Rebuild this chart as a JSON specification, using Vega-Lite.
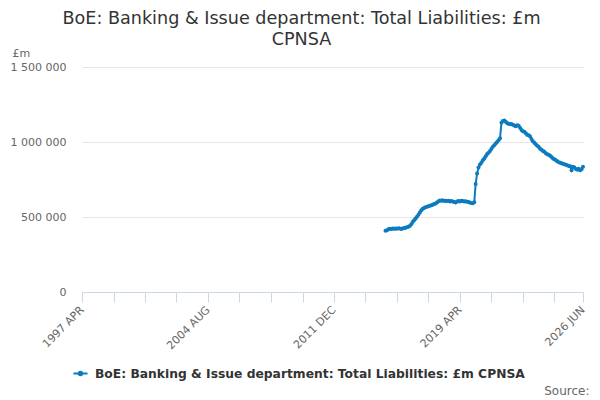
{
  "$schema": "https://vega.github.io/schema/vega-lite/v6.json",
  "autosize": {"type": "none"},
  "width": 501,
  "height": 225,
  "padding": {"left": 82, "top": 67, "right": 17, "bottom": 108},
  "background": "white",
  "title": {
    "text": ["BoE: Banking & Issue department: Total Liabilities: £m", "CPNSA"],
    "anchor": "middle",
    "frame": "group",
    "dx": -31,
    "offset": -2,
    "font": "DejaVu Sans",
    "fontSize": 17.6,
    "fontWeight": "normal",
    "color": "#333333",
    "lineHeight": 21
  },
  "config": {
    "font": "DejaVu Sans",
    "view": {"stroke": null}
  },
  "data": {
    "values": [
      {"date": "2014-12-01", "value": 408000},
      {"date": "2015-01-01", "value": 412000},
      {"date": "2015-02-01", "value": 418000},
      {"date": "2015-03-01", "value": 421000},
      {"date": "2015-04-01", "value": 420000},
      {"date": "2015-05-01", "value": 423000},
      {"date": "2015-06-01", "value": 422000},
      {"date": "2015-07-01", "value": 424000},
      {"date": "2015-08-01", "value": 421000},
      {"date": "2015-09-01", "value": 425000},
      {"date": "2015-10-01", "value": 423000},
      {"date": "2015-11-01", "value": 420000},
      {"date": "2015-12-01", "value": 424000},
      {"date": "2016-01-01", "value": 426000},
      {"date": "2016-02-01", "value": 428000},
      {"date": "2016-03-01", "value": 432000},
      {"date": "2016-04-01", "value": 435000},
      {"date": "2016-05-01", "value": 440000},
      {"date": "2016-06-01", "value": 452000},
      {"date": "2016-07-01", "value": 466000},
      {"date": "2016-08-01", "value": 478000},
      {"date": "2016-09-01", "value": 490000},
      {"date": "2016-10-01", "value": 502000},
      {"date": "2016-11-01", "value": 515000},
      {"date": "2016-12-01", "value": 530000},
      {"date": "2017-01-01", "value": 545000},
      {"date": "2017-02-01", "value": 555000},
      {"date": "2017-03-01", "value": 560000},
      {"date": "2017-04-01", "value": 565000},
      {"date": "2017-05-01", "value": 568000},
      {"date": "2017-06-01", "value": 572000},
      {"date": "2017-07-01", "value": 575000},
      {"date": "2017-08-01", "value": 578000},
      {"date": "2017-09-01", "value": 582000},
      {"date": "2017-10-01", "value": 586000},
      {"date": "2017-11-01", "value": 590000},
      {"date": "2017-12-01", "value": 596000},
      {"date": "2018-01-01", "value": 605000},
      {"date": "2018-02-01", "value": 610000},
      {"date": "2018-03-01", "value": 608000},
      {"date": "2018-04-01", "value": 612000},
      {"date": "2018-05-01", "value": 607000},
      {"date": "2018-06-01", "value": 609000},
      {"date": "2018-07-01", "value": 606000},
      {"date": "2018-08-01", "value": 608000},
      {"date": "2018-09-01", "value": 604000},
      {"date": "2018-10-01", "value": 606000},
      {"date": "2018-11-01", "value": 603000},
      {"date": "2018-12-01", "value": 600000},
      {"date": "2019-01-01", "value": 596000},
      {"date": "2019-02-01", "value": 603000},
      {"date": "2019-03-01", "value": 607000},
      {"date": "2019-04-01", "value": 604000},
      {"date": "2019-05-01", "value": 608000},
      {"date": "2019-06-01", "value": 606000},
      {"date": "2019-07-01", "value": 603000},
      {"date": "2019-08-01", "value": 605000},
      {"date": "2019-09-01", "value": 602000},
      {"date": "2019-10-01", "value": 600000},
      {"date": "2019-11-01", "value": 597000},
      {"date": "2019-12-01", "value": 594000},
      {"date": "2020-01-01", "value": 592000},
      {"date": "2020-02-01", "value": 598000},
      {"date": "2020-03-01", "value": 720000},
      {"date": "2020-04-01", "value": 790000},
      {"date": "2020-05-01", "value": 830000},
      {"date": "2020-06-01", "value": 850000},
      {"date": "2020-07-01", "value": 862000},
      {"date": "2020-08-01", "value": 878000},
      {"date": "2020-09-01", "value": 890000},
      {"date": "2020-10-01", "value": 905000},
      {"date": "2020-11-01", "value": 920000},
      {"date": "2020-12-01", "value": 928000},
      {"date": "2021-01-01", "value": 940000},
      {"date": "2021-02-01", "value": 955000},
      {"date": "2021-03-01", "value": 968000},
      {"date": "2021-04-01", "value": 978000},
      {"date": "2021-05-01", "value": 990000},
      {"date": "2021-06-01", "value": 1000000},
      {"date": "2021-07-01", "value": 1012000},
      {"date": "2021-08-01", "value": 1025000},
      {"date": "2021-09-01", "value": 1128000},
      {"date": "2021-10-01", "value": 1140000},
      {"date": "2021-11-01", "value": 1143000},
      {"date": "2021-12-01", "value": 1135000},
      {"date": "2022-01-01", "value": 1125000},
      {"date": "2022-02-01", "value": 1122000},
      {"date": "2022-03-01", "value": 1118000},
      {"date": "2022-04-01", "value": 1120000},
      {"date": "2022-05-01", "value": 1115000},
      {"date": "2022-06-01", "value": 1110000},
      {"date": "2022-07-01", "value": 1105000},
      {"date": "2022-08-01", "value": 1112000},
      {"date": "2022-09-01", "value": 1108000},
      {"date": "2022-10-01", "value": 1095000},
      {"date": "2022-11-01", "value": 1080000},
      {"date": "2022-12-01", "value": 1072000},
      {"date": "2023-01-01", "value": 1068000},
      {"date": "2023-02-01", "value": 1058000},
      {"date": "2023-03-01", "value": 1048000},
      {"date": "2023-04-01", "value": 1045000},
      {"date": "2023-05-01", "value": 1038000},
      {"date": "2023-06-01", "value": 1020000},
      {"date": "2023-07-01", "value": 1005000},
      {"date": "2023-08-01", "value": 995000},
      {"date": "2023-09-01", "value": 985000},
      {"date": "2023-10-01", "value": 975000},
      {"date": "2023-11-01", "value": 968000},
      {"date": "2023-12-01", "value": 955000},
      {"date": "2024-01-01", "value": 948000},
      {"date": "2024-02-01", "value": 940000},
      {"date": "2024-03-01", "value": 935000},
      {"date": "2024-04-01", "value": 925000},
      {"date": "2024-05-01", "value": 918000},
      {"date": "2024-06-01", "value": 915000},
      {"date": "2024-07-01", "value": 908000},
      {"date": "2024-08-01", "value": 900000},
      {"date": "2024-09-01", "value": 890000},
      {"date": "2024-10-01", "value": 885000},
      {"date": "2024-11-01", "value": 878000},
      {"date": "2024-12-01", "value": 872000},
      {"date": "2025-01-01", "value": 865000},
      {"date": "2025-02-01", "value": 862000},
      {"date": "2025-03-01", "value": 858000},
      {"date": "2025-04-01", "value": 855000},
      {"date": "2025-05-01", "value": 852000},
      {"date": "2025-06-01", "value": 848000},
      {"date": "2025-07-01", "value": 845000},
      {"date": "2025-08-01", "value": 840000},
      {"date": "2025-09-01", "value": 838000},
      {"date": "2025-10-01", "value": 812000},
      {"date": "2025-11-01", "value": 835000},
      {"date": "2025-12-01", "value": 830000},
      {"date": "2026-01-01", "value": 820000},
      {"date": "2026-02-01", "value": 815000},
      {"date": "2026-03-01", "value": 822000},
      {"date": "2026-04-01", "value": 812000},
      {"date": "2026-05-01", "value": 818000},
      {"date": "2026-06-01", "value": 835000}
    ]
  },
  "mark": {
    "type": "line",
    "strokeWidth": 2,
    "point": {"filled": true, "size": 16, "color": "#0c7bc0"}
  },
  "encoding": {
    "x": {
      "field": "date",
      "type": "temporal",
      "scale": {"domain": ["1997-04-01", "2026-06-01"], "nice": false},
      "axis": {
        "values": ["1997-04-01", "1999-02-01", "2000-12-01", "2002-10-01", "2004-08-01", "2006-06-01", "2008-04-01", "2010-02-01", "2011-12-01", "2013-10-01", "2015-08-01", "2017-06-01", "2019-04-01", "2021-02-01", "2022-12-01", "2024-10-01", "2026-06-01"],
        "labelExpr": "indexof(['1997-04','2004-08','2011-12','2019-04','2026-06'], timeFormat(datum.value, '%Y-%m')) >= 0 ? upper(timeFormat(datum.value, '%Y %b')) : ''",
        "labelAngle": -45,
        "labelAlign": "right",
        "labelBaseline": "middle",
        "labelPadding": 6,
        "labelFontSize": 11,
        "labelColor": "#666666",
        "labelOverlap": false,
        "labelBound": false,
        "labelFlush": false,
        "domainColor": "#ccd6eb",
        "tickColor": "#ccd6eb",
        "tickSize": 10,
        "grid": false,
        "title": "Source:",
        "titleFontSize": 12,
        "titleFontWeight": "normal",
        "titleColor": "#666666",
        "titleAnchor": "end",
        "titleAlign": "right",
        "titleX": 507,
        "titleY": 102,
        "titleBaseline": "alphabetic"
      }
    },
    "y": {
      "field": "value",
      "type": "quantitative",
      "scale": {"domain": [0, 1500000], "nice": false},
      "axis": {
        "values": [0, 500000, 1000000, 1500000],
        "labelExpr": "replace(format(datum.value, ','), regexp(',', 'g'), ' ')",
        "labelFontSize": 11,
        "labelColor": "#666666",
        "labelPadding": 16,
        "domain": false,
        "ticks": false,
        "gridColor": "#e6e6e6",
        "title": "£m",
        "titleAngle": 0,
        "titleAlign": "left",
        "titleBaseline": "alphabetic",
        "titleX": -70,
        "titleY": -11,
        "titleFontSize": 11,
        "titleFontWeight": "normal",
        "titleColor": "#666666"
      }
    },
    "color": {
      "datum": "BoE: Banking & Issue department: Total Liabilities: £m CPNSA",
      "type": "nominal",
      "scale": {"range": ["#0c7bc0"]},
      "legend": {
        "title": null,
        "orient": "none",
        "legendX": -10,
        "legendY": 298,
        "symbolType": "M -1 0 L 1 0 M -0.25 0 A 0.25 0.25 0 1 0 0.25 0 A 0.25 0.25 0 1 0 -0.25 0",
        "symbolSize": 200,
        "symbolStrokeWidth": 2,
        "symbolFillColor": "#0c7bc0",
        "labelFontSize": 12.3,
        "labelFontWeight": "bold",
        "labelColor": "#333333",
        "labelLimit": 500,
        "labelOffset": 6
      }
    }
  }
}
